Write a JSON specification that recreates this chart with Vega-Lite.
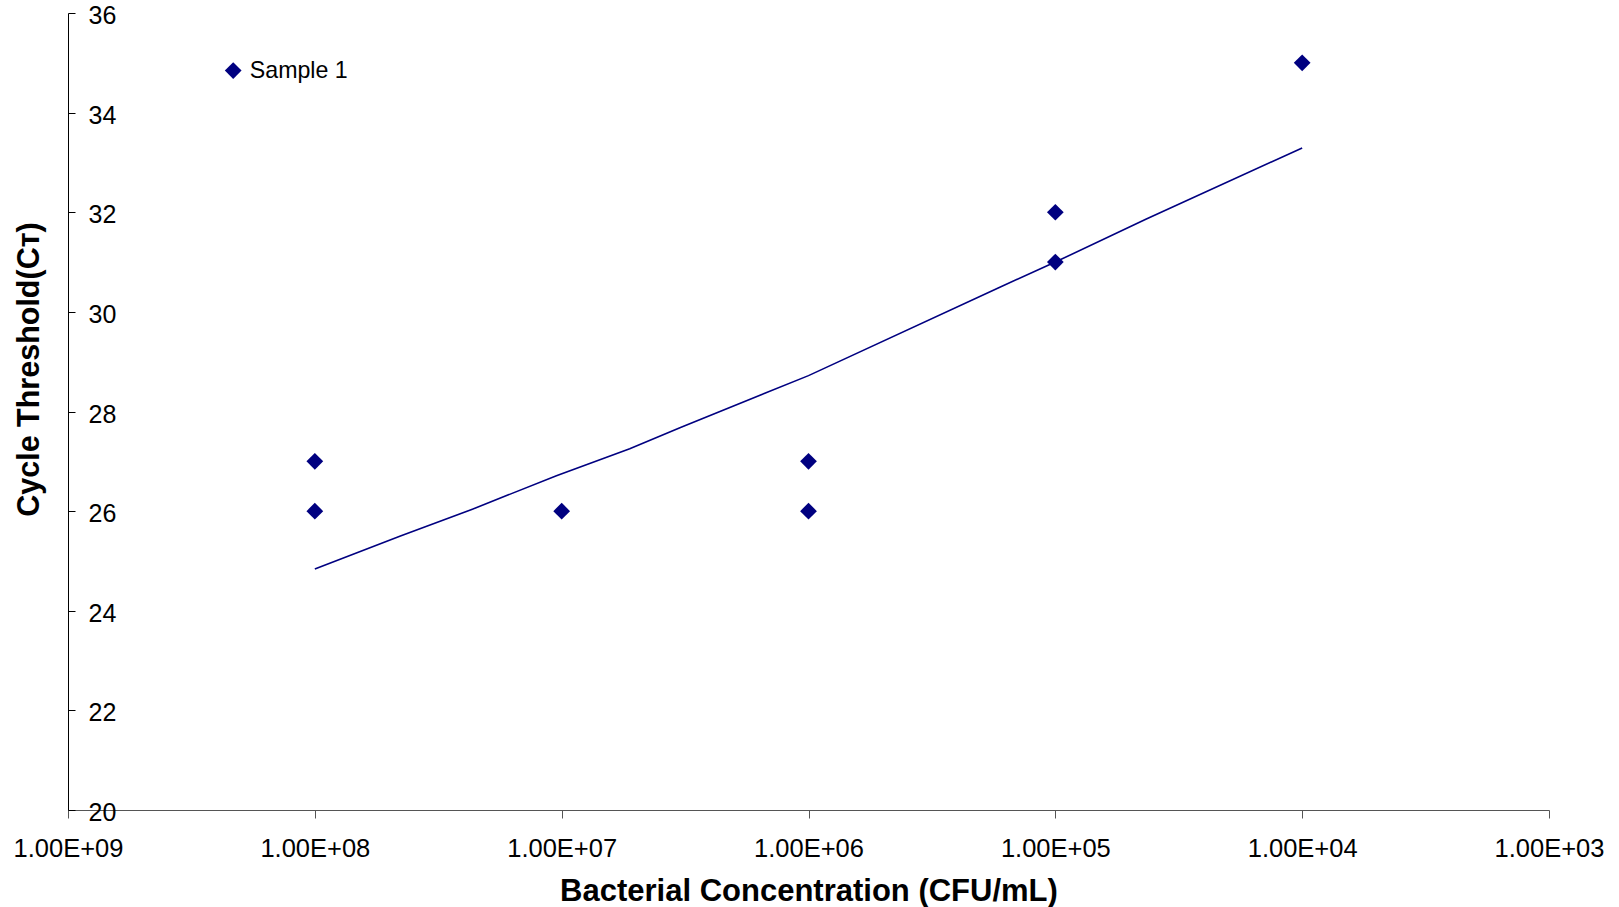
{
  "$schema": "https://vega.github.io/schema/vega-lite/v6.json",
  "width": 1481,
  "height": 797,
  "autosize": {"type": "none"},
  "padding": {"left": 68, "top": 13, "right": 70, "bottom": 97},
  "background": "white",
  "config": {
    "view": {"stroke": null},
    "font": "Liberation Sans",
    "axis": {"grid": false, "labelFont": "Liberation Sans", "titleFont": "Liberation Sans", "labelColor": "#000", "titleColor": "#000"}
  },
  "datasets": {
    "points": [
      {"conc": 100000000, "ct": 27, "series": "Sample 1"},
      {"conc": 100000000, "ct": 26, "series": "Sample 1"},
      {"conc": 10000000, "ct": 26, "series": "Sample 1"},
      {"conc": 1000000, "ct": 27, "series": "Sample 1"},
      {"conc": 1000000, "ct": 26, "series": "Sample 1"},
      {"conc": 100000, "ct": 32, "series": "Sample 1"},
      {"conc": 100000, "ct": 31, "series": "Sample 1"},
      {"conc": 10000, "ct": 35, "series": "Sample 1"}
    ],
    "trend": [
      {"conc": 100000000, "ct": 24.84},
      {"conc": 45000000, "ct": 25.5},
      {"conc": 23000000, "ct": 26.04},
      {"conc": 10500000, "ct": 26.71},
      {"conc": 5300000, "ct": 27.25},
      {"conc": 3300000, "ct": 27.68},
      {"conc": 1000000, "ct": 28.72},
      {"conc": 167000, "ct": 30.5},
      {"conc": 100000, "ct": 31.0},
      {"conc": 43000, "ct": 31.86},
      {"conc": 10000, "ct": 33.29}
    ]
  },
  "layer": [
    {
      "data": {"name": "trend"},
      "mark": {"type": "line", "color": "#000080", "strokeWidth": 1.6},
      "encoding": {
        "x": {"field": "conc", "type": "quantitative"},
        "y": {"field": "ct", "type": "quantitative"}
      }
    },
    {
      "data": {"name": "points"},
      "mark": {"type": "point", "filled": true, "opacity": 1, "size": 280, "strokeWidth": 0},
      "encoding": {
        "x": {
          "field": "conc", "type": "quantitative",
          "scale": {"type": "log", "domain": [1000, 1000000000], "reverse": true, "nice": false},
          "axis": {
            "values": [1000, 10000, 100000, 1000000, 10000000, 100000000, 1000000000],
            "labelExpr": "'1.00E+0' + round(log(datum.value)/LN10)",
            "title": "Bacterial Concentration (CFU/mL)",
            "titleFontSize": 31, "titleFontWeight": "bold",
            "titleX": 740.5, "titleY": 90, "titleBaseline": "alphabetic", "titleAlign": "center", "titleAnchor": "middle",
            "labelFontSize": 25.5, "labelBaseline": "alphabetic", "labelPadding": 38.7, "tickSize": 8,
            "labelFlush": false, "labelOverlap": false, "labelBound": false,
            "domainColor": "#555", "tickColor": "#555", "domainWidth": 1, "tickWidth": 1
          }
        },
        "y": {
          "field": "ct", "type": "quantitative",
          "scale": {"domain": [20, 36], "nice": false, "zero": false},
          "axis": {
            "values": [20, 22, 24, 26, 28, 30, 32, 34, 36],
            "title": "Cycle Threshold(Cᴛ)",
            "titleFontSize": 30.5, "titleFontWeight": "bold",
            "titleX": -30, "titleY": 356, "titleAngle": -90, "titleBaseline": "alphabetic", "titleAlign": "center", "titleAnchor": "middle",
            "labelFontSize": 25, "labelAlign": "left", "labelBaseline": "middle", "labelPadding": -13, "tickSize": -7, "labelOffset": 2.5,
            "labelFlush": false, "labelOverlap": false, "labelBound": false,
            "domainColor": "#000", "tickColor": "#000", "domainWidth": 1, "tickWidth": 1
          }
        },
        "color": {
          "field": "series", "type": "nominal",
          "scale": {"domain": ["Sample 1"], "range": ["#000080"]},
          "legend": {
            "orient": "none", "legendX": 153.6, "legendY": 46, "title": null, "padding": 0,
            "labelFontSize": 23.2, "labelFont": "Liberation Sans", "labelColor": "#000", "labelOffset": 5,
            "symbolSize": 280, "symbolType": "diamond", "symbolStrokeWidth": 0, "symbolOpacity": 1
          }
        },
        "shape": {
          "field": "series", "type": "nominal",
          "scale": {"domain": ["Sample 1"], "range": ["diamond"]},
          "legend": null
        }
      }
    }
  ]
}
